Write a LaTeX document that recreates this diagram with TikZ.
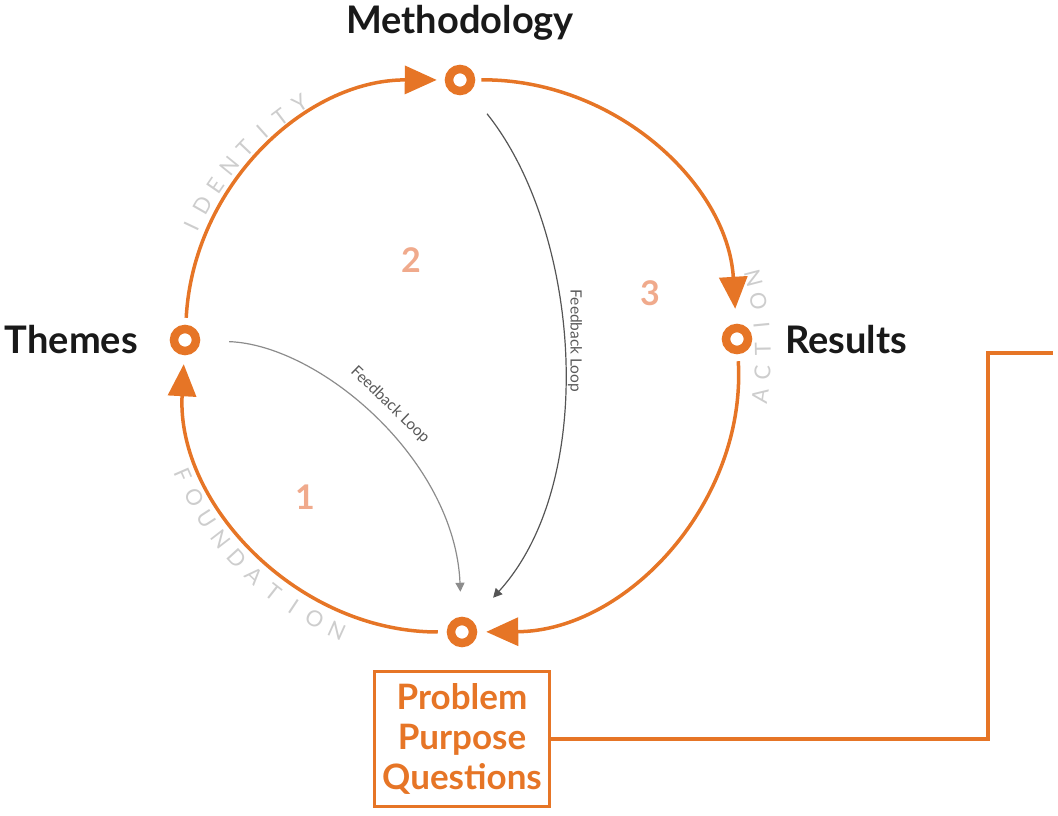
\documentclass[tikz,border=0pt]{standalone}
\usepackage{fontspec}
\setmainfont{Lato}
\usetikzlibrary{arrows.meta,calc}
\definecolor{org}{RGB}{230,117,38}
\definecolor{lorg}{RGB}{240,170,140}
\definecolor{lgray}{RGB}{205,205,205}
\definecolor{fbA}{RGB}{140,140,140}
\definecolor{fbB}{RGB}{85,85,85}
\begin{document}
\begin{tikzpicture}[x=1pt,y=1pt,
 ring/.style={circle,draw=org,line width=8.5pt,minimum size=22pt,inner sep=0pt},
 cyc/.style={draw=org,line width=3.5pt,-{Triangle[length=32pt,width=28pt,fill=org]}},
 lbl/.style={font=\fontsize{38}{42}\selectfont\bfseries,text=black!90,inner sep=0pt},
 num/.style={font=\fontsize{34}{38}\selectfont\bfseries,text=lorg},
 fb/.style={line width=1.2pt,-{Triangle[length=9pt,width=9pt]}},
 fbt/.style={font=\fontsize{15.5}{17}\selectfont,text=black!65,inner sep=1pt},
 ctext/.style={font=\fontsize{22}{24}\selectfont,text=lgray,inner sep=0pt}]
\useasboundingbox (0,0) rectangle (1058,815);
\coordinate (C) at (461,461);
\node[ring] (me) at (460,735) {};
\node[ring] (th) at (185,475) {};
\node[ring] (re) at (737,476) {};
\node[ring] (pr) at (462,183) {};
% cycle arcs
\draw[cyc,shorten <=7pt,shorten >=8pt] (th) to[bend left=43.5] (me);
\draw[cyc,shorten <=6pt,shorten >=15pt] (me) to[bend left=43.5] (re);
\draw[cyc,shorten <=7pt,shorten >=9pt] (re) to[bend left=46.5] (pr);
\draw[cyc,shorten <=9pt,shorten >=9pt] (pr) to[bend left=46.5] (th);
% labels
\node[lbl,anchor=base] (tm) at (460,781) {Methodology};
\node[lbl,anchor=base east] (tt) at (138,461) {Themes};
\node[lbl,anchor=base west] (tr) at (785,461) {Results};
% numbers
\node[num] (n1) at (305,318) {1};
\node[num] (n2) at (411,555) {2};
\node[num] (n3) at (650,522) {3};
% feedback loops
\draw[fb,color=fbA,shorten <=29pt,shorten >=25pt] (th) .. controls (320,470) and (455,355) .. (pr);
\node[fbt,rotate=-44] (fl1) at (390,410) {Feedback Loop};
\draw[fb,color=fbB,shorten <=28pt,shorten >=31pt] (me) .. controls (580,585) and (600,335) .. (pr);
\node[fbt,rotate=-90] (fl2) at (575,474) {Feedback Loop};
% circle words
\foreach \ch [count=\i from 0] in {I,D,E,N,T,I,T,Y} {
  \pgfmathsetmacro\a{154.7-4.57*\i}
  \pgfmathsetmacro\r{\a-90}
  \node[ctext,rotate=\r] (id\i) at ($(C)+(\a:298)$) {\ch};
}
\foreach \ch [count=\i from 0] in {F,O,U,N,D,A,T,I,O,N} {
  \pgfmathsetmacro\a{203.6+4.69*\i}
  \pgfmathsetmacro\r{\a+90}
  \node[ctext,rotate=\r] (fo\i) at ($(C)+(\a:303)$) {\ch};
}
\foreach \ch [count=\i from 0] in {A,C,T,I,O,N} {
  \pgfmathsetmacro\a{-8.0+4.5*\i}
  \pgfmathsetmacro\r{\a+90}
  \node[ctext,rotate=\r] (ac\i) at ($(C)+(\a:302)$) {\ch};
}
% problem box
\node[draw=org,line width=3pt,minimum width=175pt,minimum height=135pt,align=center,
  font=\fontsize{35}{40}\selectfont\bfseries,text=org,inner sep=0pt] (box) at (462,76)
  {Problem\\Purpose\\Questions};
\coordinate (k2) at (988,462);
\coordinate (k3) at (1053,462);
\draw[draw=org,line width=4.5pt] (box.east) -- (box.east -| k2) -- (k2) -- (k3);
\end{tikzpicture}
\end{document}
